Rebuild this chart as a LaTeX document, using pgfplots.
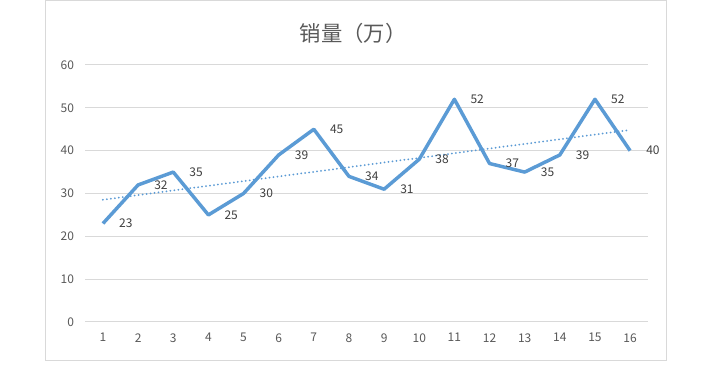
\documentclass[border=0pt]{standalone}
\usepackage{pgfplots}
\pgfplotsset{compat=1.18}
\usepackage{fontspec}
\setmainfont{Noto Sans CJK SC}
\definecolor{serblue}{HTML}{5B9BD5}
\definecolor{gridgray}{HTML}{D9D9D9}
\definecolor{ticktext}{HTML}{595959}
\definecolor{labtext}{HTML}{404040}
\definecolor{framegray}{HTML}{D9D9D9}
\begin{document}
\begin{tikzpicture}
\useasboundingbox[fill=white] (0,0) rectangle (529.5pt,283.5pt);
\draw[framegray, line width=0.75pt] (33.75pt,12.75pt) rectangle (499.5pt,282.75pt);
\node[text=ticktext, font=\fontsize{16pt}{18pt}\selectfont] at (264.75pt,258.75pt) {销量（万）};
\begin{axis}[
  at={(64.05pt,42pt)}, anchor=south west,
  scale only axis, width=421.7pt, height=192.75pt,
  xmin=0.5, xmax=16.5, ymin=0, ymax=60,
  xtick={1,...,16}, ytick={0,10,...,60},
  axis line style={draw=none},
  major tick length=0pt,
  ymajorgrids, grid style={gridgray, line width=0.75pt},
  tick label style={text=ticktext, font=\fontsize{9pt}{11pt}\selectfont},
  /pgf/number format/assume math mode=true,
  yticklabel style={xshift=-5pt},
  xticklabel style={yshift=-5pt},
  clip=false,
]
\addplot[serblue, line width=2.6pt, line join=round,
  nodes near coords, every node near coord/.style={anchor=west, xshift=7.5pt, text=labtext, font=\fontsize{9pt}{11pt}\selectfont}]
coordinates {(1,23) (2,32) (3,35) (4,25) (5,30) (6,39) (7,45) (8,34) (9,31) (10,38) (11,52) (12,37) (13,35) (14,39) (15,52) (16,40)};
\addplot[serblue, line width=1.5pt, line cap=round, dash pattern=on 0pt off 3pt]
coordinates {(1,28.54) (16,44.84)};
\end{axis}
\end{tikzpicture}
\end{document}
